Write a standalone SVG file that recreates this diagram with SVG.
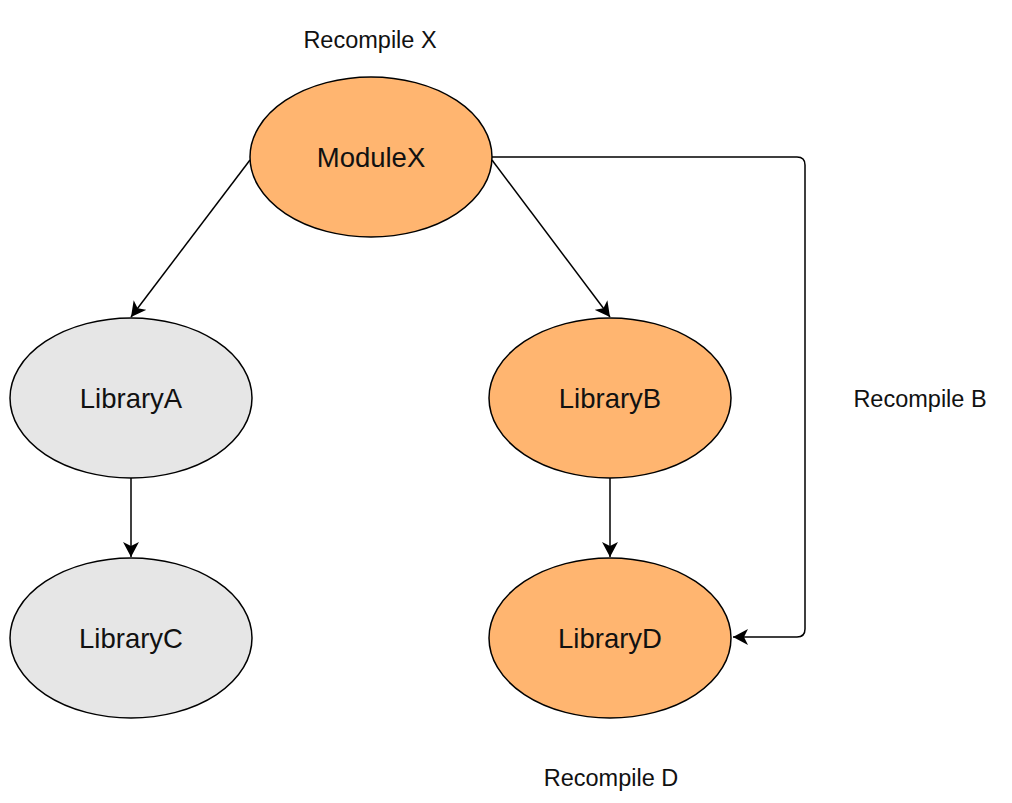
<svg xmlns="http://www.w3.org/2000/svg" width="1012" height="803" viewBox="0 0 1012 803">
<style>
.node{stroke:#000;stroke-width:1.5}
.orange{fill:#FFB570}
.gray{fill:#E6E6E6}
.nt{font-family:"Liberation Sans",Arial,sans-serif;font-size:27.5px;fill:#111;text-anchor:middle}
.lbl{font-family:"Liberation Sans",Arial,sans-serif;font-size:23.5px;fill:#111;text-anchor:middle}
.edge{fill:none;stroke:#000;stroke-width:1.5}
</style>
<defs>
<marker id="arr" viewBox="0 0 16 16" refX="15" refY="8" markerWidth="16" markerHeight="16" markerUnits="userSpaceOnUse" orient="auto">
<path d="M0,0 L15,8 L0,16 L4,8 Z" fill="#000"/>
</marker>
</defs>
<rect width="1012" height="803" fill="#fff"/>
<g id="connectors">
<line class="edge" x1="250" y1="160" x2="131" y2="317" marker-end="url(#arr)"/>
<line class="edge" x1="492" y1="160" x2="610" y2="317" marker-end="url(#arr)"/>
<line class="edge" x1="131" y1="478" x2="131" y2="557" marker-end="url(#arr)"/>
<line class="edge" x1="610" y1="478" x2="610" y2="557" marker-end="url(#arr)"/>
<path class="edge" d="M492,157 L797,157 Q805,157 805,165 L805,629 Q805,637 797,637 L733,637" marker-end="url(#arr)"/>
</g>
<g id="ModuleX">
<ellipse class="node orange" cx="371" cy="157" rx="121" ry="80"/>
<text class="nt" x="371" y="167">ModuleX</text>
</g>
<g id="LibraryA">
<ellipse class="node gray" cx="131" cy="398" rx="121" ry="80"/>
<text class="nt" x="131" y="408">LibraryA</text>
</g>
<g id="LibraryB">
<ellipse class="node orange" cx="610" cy="398" rx="121" ry="80"/>
<text class="nt" x="610" y="408">LibraryB</text>
</g>
<g id="LibraryC">
<ellipse class="node gray" cx="131" cy="638" rx="121" ry="80"/>
<text class="nt" x="131" y="648">LibraryC</text>
</g>
<g id="LibraryD">
<ellipse class="node orange" cx="610" cy="638" rx="121" ry="80"/>
<text class="nt" x="610" y="648">LibraryD</text>
</g>
<g id="labels">
<text class="lbl" x="370" y="48">Recompile X</text>
<text class="lbl" x="920" y="407">Recompile B</text>
<text class="lbl" x="611" y="786">Recompile D</text>
</g>
</svg>
